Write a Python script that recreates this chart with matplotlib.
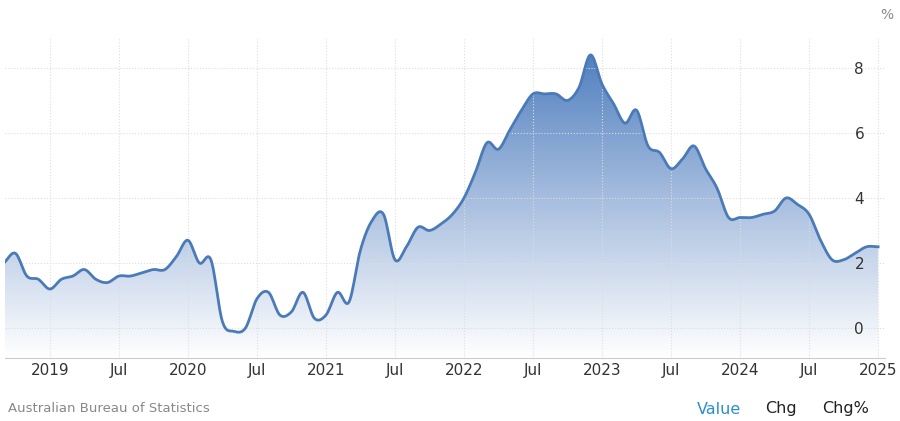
import numpy as np
import matplotlib.pyplot as plt
from matplotlib.colors import LinearSegmentedColormap

# monthly CPI indicator, Sep 2018 .. Jan 2025 (months from Jan 2019)
start_month = -4
values = [2.0, 2.3, 1.6, 1.5,
          1.2, 1.5, 1.6, 1.8, 1.5, 1.4, 1.6, 1.6, 1.7, 1.8, 1.8, 2.2,
          2.7, 2.0, 2.1, 0.2, -0.1, 0.0, 0.9, 1.1, 0.4, 0.5, 1.1, 0.3,
          0.4, 1.1, 0.8, 2.4, 3.3, 3.5, 2.1, 2.5, 3.1, 3.0, 3.2, 3.5,
          4.0, 4.8, 5.7, 5.5, 6.1, 6.7, 7.2, 7.2, 7.2, 7.0, 7.4, 8.4,
          7.5, 6.9, 6.3, 6.7, 5.6, 5.4, 4.9, 5.2, 5.6, 4.9, 4.3, 3.4,
          3.4, 3.4, 3.5, 3.6, 4.0, 3.8, 3.5, 2.7, 2.1, 2.1, 2.3, 2.5,
          2.5]
tick_labels = ["2019", "Jul", "2020", "Jul", "2021", "Jul", "2022", "Jul",
               "2023", "Jul", "2024", "Jul", "2025"]

x = np.arange(len(values)) + start_month
y = np.array(values)

# Catmull-Rom smoothing for the line look
def smooth(xs, ys, n=12):
    px = np.concatenate([[2*xs[0]-xs[1]], xs, [2*xs[-1]-xs[-2]]])
    py = np.concatenate([[2*ys[0]-ys[1]], ys, [2*ys[-1]-ys[-2]]])
    ox, oy = [], []
    t = np.linspace(0, 1, n, endpoint=False)
    for i in range(1, len(px) - 2):
        for arr, out in ((px, ox), (py, oy)):
            p0, p1, p2, p3 = arr[i-1:i+3]
            out.extend(0.5*((2*p1) + (-p0+p2)*t + (2*p0-5*p1+4*p2-p3)*t**2
                            + (-p0+3*p1-3*p2+p3)*t**3))
    ox.append(xs[-1]); oy.append(ys[-1])
    return np.array(ox), np.array(oy)

sx, sy = smooth(x, y)

fig = plt.figure(figsize=(9, 4.21), dpi=100)
ax = fig.add_axes([5/900, 1-358/421, 880/900, 321/421])
ymin, ymax = -0.92, 8.95
xmin, xmax = -3.9, 72.6

cmap = LinearSegmentedColormap.from_list("g", ["#ffffff", "#aac0e0", "#4f7fbf"])
grad = np.linspace(0, 1, 256).reshape(-1, 1)
im = ax.imshow(grad, extent=[xmin, xmax, ymin, 8.5], origin="lower",
               cmap=cmap, aspect="auto", zorder=1)
poly = ax.fill_between(sx, sy, ymin, color="none")
im.set_clip_path(poly.get_paths()[0], transform=ax.transData)
ax.plot(sx, sy, color="#4a7ab8", lw=2, zorder=3)

ax.set_xlim(xmin, xmax)
ax.set_ylim(ymin, ymax)
ax.set_xticks(np.arange(0, 73, 6))
ax.set_xticklabels(tick_labels)
ax.set_yticks([0, 2, 4, 6, 8])
ax.yaxis.tick_right()
ax.tick_params(length=0, labelsize=11, colors="#333333")
ax.tick_params(axis="y", pad=-22)
ax.grid(True, color="#dddddd", ls=":", lw=0.8)
for s in ["top", "left", "right"]:
    ax.spines[s].set_visible(False)
ax.spines["bottom"].set_color("#cccccc")
for lbl in ax.get_yticklabels():
    lbl.set_horizontalalignment("left")

fig.text(880/900, 1-15/421, "%", fontsize=10, color="#888888", ha="left", va="center")
fig.text(8/900, 1-409/421, "Australian Bureau of Statistics", fontsize=9.5, color="#888888", va="center")
fig.text(697/900, 1-409/421, "Value", fontsize=11.5, color="#2a8fd0", va="center")
fig.text(765/900, 1-409/421, "Chg", fontsize=11.5, color="#222222", va="center")
fig.text(822/900, 1-409/421, "Chg%", fontsize=11.5, color="#222222", va="center")

fig.savefig("out.png", dpi=100)
